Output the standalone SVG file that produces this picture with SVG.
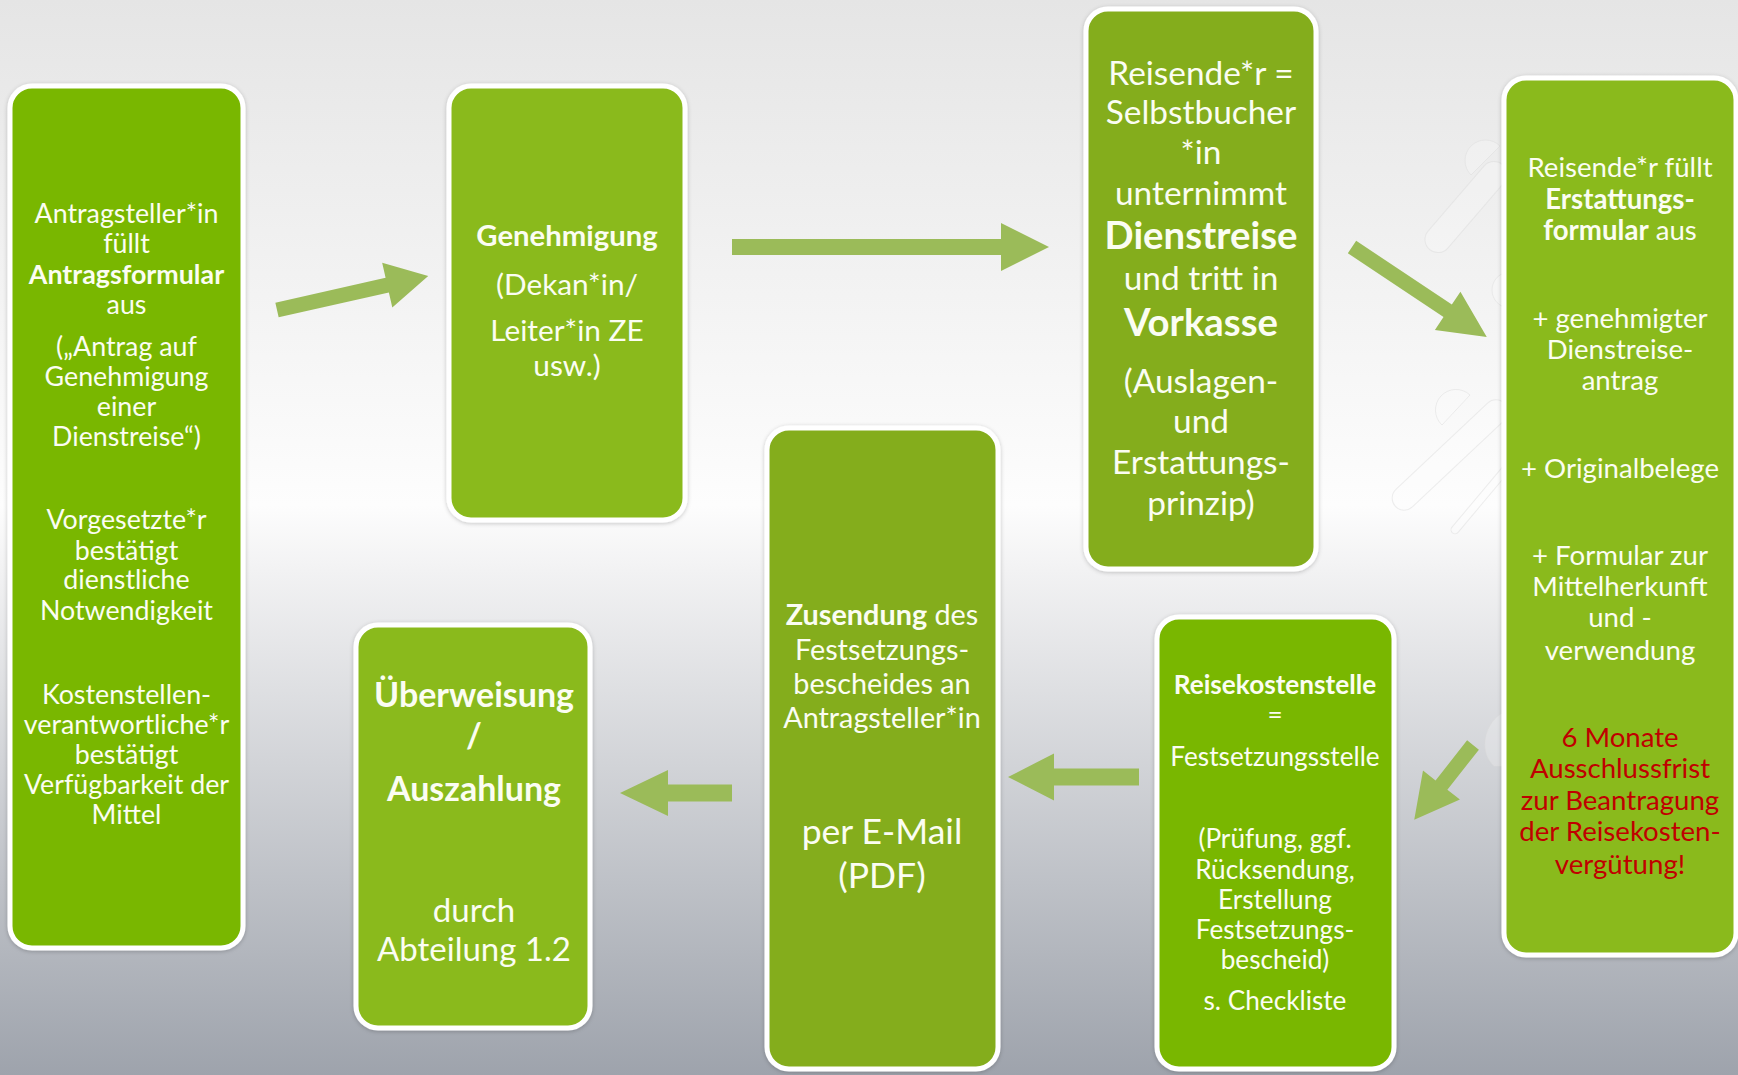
<svg xmlns="http://www.w3.org/2000/svg" width="1738" height="1075" viewBox="0 0 1738 1075">
  <defs>
    <linearGradient id="bg" x1="0" y1="0" x2="0" y2="1">
      <stop offset="0" stop-color="#e5e5e5"/>
      <stop offset="0.47" stop-color="#fdfdfd"/>
      <stop offset="0.53" stop-color="#f2f2f3"/>
      <stop offset="1" stop-color="#9ea3ac"/>
    </linearGradient>
    <filter id="shadow" x="-10%" y="-10%" width="120%" height="120%">
      <feDropShadow dx="0" dy="1" stdDeviation="2" flood-color="#000" flood-opacity="0.22"/>
    </filter>
    <style>
      .box { stroke: #ffffff; stroke-width: 5; filter: url(#shadow); }
      .g1 { fill: #79b700; }
      .g2 { fill: #8aba1a; }
      .g3 { fill: #84ad1e; }
      .t { font-family: "Lato", "Liberation Sans", sans-serif; fill: #fbfdf2; text-anchor: middle; }
      .b { font-weight: bold; }
      .red { fill: #c00000; }
      .arrow { fill: #9bbb59; }
      .decor { fill: #ffffff; fill-opacity: 0.22; stroke: #dadada; stroke-opacity: 0.45; stroke-width: 1; }
    </style>
  </defs>

  <!-- background -->
  <rect x="0" y="0" width="1738" height="1075" fill="url(#bg)"/>

  <!-- faint background swooshes behind the right-hand column -->
  <g id="decor">
    <path class="decor" d="M1500,146 L1471,175 A20.5,20.5 0 0 1 1500,146 Z"/>
    <rect class="decor" x="1410" y="194" width="112" height="26" rx="13" transform="rotate(-49.3 1466 207)"/>
    <circle class="decor" cx="1510" cy="290" r="18"/>
    <path class="decor" d="M1470,395 L1442,425 A20.5,20.5 0 0 1 1470,395 Z"/>
    <rect class="decor" x="1375" y="443" width="150" height="24" rx="12" transform="rotate(-43.3 1450 455)"/>
    <rect class="decor" x="1440" y="502" width="90" height="8" rx="4" transform="rotate(-50 1475 506)"/>
    <path class="decor" d="M1504,712 C1484,722 1478,752 1494,766 L1504,766 Z"/>
  </g>

  <!-- connectors -->
  <g id="connectors">
    <path class="arrow" transform="translate(277,310) rotate(-12.7)" d="M0,-7.5 L113,-7.5 L113,-23 L155,0 L113,23 L113,7.5 L0,7.5 Z"/>
    <path class="arrow" transform="translate(732,247)" d="M0,-8 L269,-8 L269,-24 L317,0 L269,24 L269,8 L0,8 Z"/>
    <path class="arrow" transform="translate(1352,247) rotate(33.7)" d="M0,-7.5 L115,-7.5 L115,-23 L162,0 L115,23 L115,7.5 L0,7.5 Z"/>
    <path class="arrow" transform="translate(1473,745) rotate(128.2)" d="M0,-7.5 L51,-7.5 L51,-23.5 L95,0 L51,23.5 L51,7.5 L0,7.5 Z"/>
    <path class="arrow" transform="translate(1139,777) rotate(180)" d="M0,-8.5 L85,-8.5 L85,-23.5 L131,0 L85,23.5 L85,8.5 L0,8.5 Z"/>
    <path class="arrow" transform="translate(732,793) rotate(180)" d="M0,-8.5 L64,-8.5 L64,-23 L112,0 L64,23 L64,8.5 L0,8.5 Z"/>
  </g>

  <!-- application form -->
  <g id="antrag">
    <rect class="box g1" x="10" y="86" width="233" height="862" rx="22"/>
    <text class="t" font-size="26.8"><tspan x="126.5" y="223">Antragsteller*in</tspan
      ><tspan x="126.5" y="253">füllt</tspan
      ><tspan x="126.5" y="284" class="b">Antragsformular</tspan
      ><tspan x="126.5" y="314">aus</tspan
      ><tspan x="126.5" y="356">(„Antrag auf</tspan
      ><tspan x="126.5" y="386">Genehmigung</tspan
      ><tspan x="126.5" y="416">einer</tspan
      ><tspan x="126.5" y="446">Dienstreise“)</tspan
      ><tspan x="126.5" y="529">Vorgesetzte*r</tspan
      ><tspan x="126.5" y="560">bestätigt</tspan
      ><tspan x="126.5" y="589">dienstliche</tspan
      ><tspan x="126.5" y="620">Notwendigkeit</tspan
      ><tspan x="126.5" y="704">Kostenstellen-</tspan
      ><tspan x="126.5" y="734">verantwortliche*r</tspan
      ><tspan x="126.5" y="764">bestätigt</tspan
      ><tspan x="126.5" y="794">Verfügbarkeit der</tspan
      ><tspan x="126.5" y="824">Mittel</tspan></text>
  </g>

  <!-- approval -->
  <g id="genehmigung">
    <rect class="box g2" x="449" y="86" width="236" height="434" rx="22"/>
    <text class="t" font-size="29.8"><tspan x="567" y="246" class="b" font-size="29.3">Genehmigung</tspan
      ><tspan x="567" y="295">(Dekan*in/</tspan
      ><tspan x="567" y="341">Leiter*in ZE</tspan
      ><tspan x="567" y="376">usw.)</tspan></text>
  </g>

  <!-- business trip -->
  <g id="dienstreise">
    <rect class="box g3" x="1086" y="9" width="230" height="560" rx="22"/>
    <text class="t" font-size="33.4"><tspan x="1201" y="85">Reisende*r =</tspan
      ><tspan x="1201" y="124">Selbstbucher</tspan
      ><tspan x="1201" y="164">*in</tspan
      ><tspan x="1201" y="205">unternimmt</tspan
      ><tspan x="1201" y="249" class="b" font-size="38.3">Dienstreise</tspan
      ><tspan x="1201" y="290">und tritt in</tspan
      ><tspan x="1201" y="336" class="b" font-size="38.3">Vorkasse</tspan
      ><tspan x="1201" y="393">(Auslagen-</tspan
      ><tspan x="1201" y="433">und</tspan
      ><tspan x="1201" y="474">Erstattungs-</tspan
      ><tspan x="1201" y="515">prinzip)</tspan></text>
  </g>

  <!-- reimbursement form -->
  <g id="erstattung">
    <rect class="box g2" x="1504" y="78" width="232" height="877" rx="22"/>
    <text class="t" font-size="27.6"><tspan x="1620" y="177">Reisende*r füllt</tspan
      ><tspan x="1620" y="209" class="b">Erstattungs-</tspan
      ><tspan x="1620" y="240"><tspan class="b">formular</tspan> aus</tspan
      ><tspan x="1620" y="328">+ genehmigter</tspan
      ><tspan x="1620" y="359">Dienstreise-</tspan
      ><tspan x="1620" y="390">antrag</tspan
      ><tspan x="1620" y="478">+ Originalbelege</tspan
      ><tspan x="1620" y="565">+ Formular zur</tspan
      ><tspan x="1620" y="596">Mittelherkunft</tspan
      ><tspan x="1620" y="627">und -</tspan
      ><tspan x="1620" y="660">verwendung</tspan></text>
    <text class="t red" font-size="27.6"><tspan x="1620" y="747">6 Monate</tspan
      ><tspan x="1620" y="778">Ausschlussfrist</tspan
      ><tspan x="1620" y="810">zur Beantragung</tspan
      ><tspan x="1620" y="841">der Reisekosten-</tspan
      ><tspan x="1620" y="874">vergütung!</tspan></text>
  </g>

  <!-- travel expense office -->
  <g id="reisekostenstelle">
    <rect class="box g1" x="1157" y="617" width="237" height="452" rx="22"/>
    <text class="t" font-size="26.2"><tspan x="1275" y="694" class="b">Reisekostenstelle</tspan
      ><tspan x="1275" y="724">=</tspan
      ><tspan x="1275" y="766">Festsetzungsstelle</tspan
      ><tspan x="1275" y="848">(Prüfung, ggf.</tspan
      ><tspan x="1275" y="879">Rücksendung,</tspan
      ><tspan x="1275" y="909">Erstellung</tspan
      ><tspan x="1275" y="939">Festsetzungs-</tspan
      ><tspan x="1275" y="969">bescheid)</tspan
      ><tspan x="1275" y="1010">s. Checkliste</tspan></text>
  </g>

  <!-- notice delivery -->
  <g id="zusendung">
    <rect class="box g3" x="767" y="428" width="231" height="641" rx="22"/>
    <text class="t" font-size="28.8"><tspan x="882" y="625"><tspan class="b">Zusendung</tspan> des</tspan
      ><tspan x="882" y="660">Festsetzungs-</tspan
      ><tspan x="882" y="694">bescheides an</tspan
      ><tspan x="882" y="728">Antragsteller*in</tspan
      ><tspan x="882" y="844" font-size="35.5">per E-Mail</tspan
      ><tspan x="882" y="888" font-size="35.5">(PDF)</tspan></text>
  </g>

  <!-- payment -->
  <g id="auszahlung">
    <rect class="box g2" x="356" y="625" width="234" height="403" rx="22"/>
    <text class="t" font-size="34"><tspan x="474" y="707" class="b">Überweisung</tspan
      ><tspan x="474" y="748" class="b">/</tspan
      ><tspan x="474" y="801" class="b">Auszahlung</tspan
      ><tspan x="474" y="922" font-size="33">durch</tspan
      ><tspan x="474" y="961" font-size="33">Abteilung 1.2</tspan></text>
  </g>
</svg>
